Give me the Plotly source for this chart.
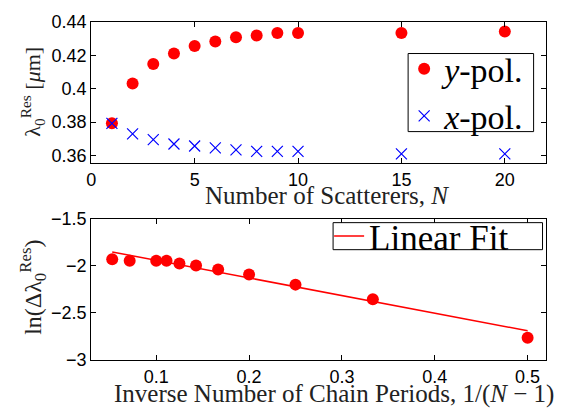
import plotly.graph_objects as go

# ---- data ----
N = [1, 2, 3, 4, 5, 6, 7, 8, 9, 10, 15, 20]
y_pol = [0.3793, 0.4031, 0.4149, 0.4211, 0.4257, 0.4284, 0.4309, 0.4320, 0.4334, 0.4334, 0.4334, 0.4343]
x_pol = [0.3793, 0.3730, 0.3695, 0.3669, 0.3657, 0.3646, 0.3634, 0.3625, 0.3625, 0.3625, 0.3610, 0.3610]

inv_periods = [0.0526, 0.0714, 0.1, 0.1111, 0.125, 0.1429, 0.1667, 0.2, 0.25, 0.3333, 0.5]
ln_dlam = [-1.931, -1.948, -1.948, -1.948, -1.975, -1.998, -2.039, -2.093, -2.200, -2.355, -2.763]
fit_x = [0.0526, 0.5]
fit_y = [-1.854, -2.689]

top_xticks = [0, 5, 10, 15, 20]
top_yticks = [0.36, 0.38, 0.40, 0.42, 0.44]
top_yticklabels = ["0.36", "0.38", "0.4", "0.42", "0.44"]
bot_xticks = [0.1, 0.2, 0.3, 0.4, 0.5]
bot_yticks = [-3, -2.5, -2, -1.5]
bot_yticklabels = ["\u22123", "\u22122.5", "\u22122", "\u22121.5"]

W, H = 567, 419
SERIF = "Liberation Serif, Times New Roman, serif"
SANS = "Liberation Sans, Arial, sans-serif"

fig = go.Figure()
fig.add_trace(go.Scatter(x=N, y=y_pol, mode="markers", name="<i>y</i>-pol.",
                         marker=dict(symbol="circle", size=12, color="#ff0000"),
                         xaxis="x", yaxis="y", legend="legend"))
fig.add_trace(go.Scatter(x=N, y=x_pol, mode="markers", name="<i>x</i>-pol.",
                         marker=dict(symbol="x-thin-open", size=11, color="#0000ff",
                                     line=dict(width=1.2, color="#0000ff")),
                         xaxis="x", yaxis="y", legend="legend"))
fig.add_trace(go.Scatter(x=inv_periods, y=ln_dlam, mode="markers", showlegend=False,
                         marker=dict(symbol="circle", size=12, color="#ff0000"),
                         xaxis="x2", yaxis="y2"))
fig.add_trace(go.Scatter(x=fit_x, y=fit_y, mode="lines", name="Linear Fit",
                         line=dict(color="#ff0000", width=1.5),
                         xaxis="x2", yaxis="y2", legend="legend2"))

xd = [87 / W, 546 / W]
ax_common = dict(showline=True, linecolor="black", linewidth=1, mirror="ticks",
                 ticks="inside", ticklen=5, tickcolor="black", showgrid=False,
                 zeroline=False, tickfont=dict(family=SANS, size=18, color="black"))

# legend frames (drawn as boxes behind transparent legends)
leg1 = (406.7, 45.7, 533.3, 127.7)
leg2 = (331.0, 223.3, 542.3, 251.7)

def box(b):
    return dict(type="rect", xref="paper", yref="paper",
                x0=b[0] / W, x1=b[2] / W, y0=1 - b[3] / H, y1=1 - b[1] / H,
                line=dict(color="black", width=1), fillcolor="white", layer="above")

fig.update_layout(
    width=W, height=H, autosize=False,
    margin=dict(l=0, r=0, t=0, b=0),
    paper_bgcolor="white", plot_bgcolor="white",
    xaxis=dict(domain=xd, range=[0, 22], tickvals=top_xticks, anchor="y", **ax_common),
    yaxis=dict(domain=[1 - 161 / H, 1 - 12.7 / H], range=[0.3553, 0.44],
               tickvals=top_yticks, ticktext=top_yticklabels, anchor="x", **ax_common),
    xaxis2=dict(domain=xd, range=[0.03, 0.52], tickvals=bot_xticks, anchor="y2", **ax_common),
    yaxis2=dict(domain=[1 - 367.7 / H, 1 - 219 / H], range=[-3, -1.5],
                tickvals=bot_yticks, ticktext=bot_yticklabels, anchor="x2", **ax_common),
    shapes=[box(leg1), box(leg2)],
    legend=dict(x=(leg1[0] - 4) / W, y=1 - (leg1[1] + leg1[3]) / 2 / H, xanchor="left", yanchor="middle",
                bgcolor="rgba(0,0,0,0)", borderwidth=0,
                font=dict(family=SERIF, size=34, color="black"), tracegroupgap=0),
    legend2=dict(x=(leg2[0] - 4) / W, y=1 - (leg2[1] + leg2[3]) / 2 / H, xanchor="left", yanchor="middle",
                 bgcolor="rgba(0,0,0,0)", borderwidth=0,
                 font=dict(family=SERIF, size=35, color="black")),
    annotations=[
        dict(text="Number of Scatterers, <i>N</i>", x=325 / W, y=1 - 195 / H,
             xref="paper", yref="paper", showarrow=False, xanchor="center", yanchor="middle",
             font=dict(family=SERIF, size=25, color="#222")),
        dict(text="Inverse Number of Chain Periods, 1/(<i>N</i> \u2212 1)", x=332 / W, y=1 - 403 / H,
             xref="paper", yref="paper", showarrow=False, xanchor="center", yanchor="middle",
             font=dict(family=SERIF, size=25, color="#222")),
        dict(text="\u03bb<sub>0</sub><sup>Res</sup> [<i>\u03bc</i>m]", x=28 / W, y=1 - 86 / H,
             xref="paper", yref="paper", showarrow=False, textangle=-90,
             xanchor="center", yanchor="middle",
             font=dict(family=SERIF, size=22, color="#222")),
        dict(text="ln(\u0394\u03bb<sub>0</sub><sup>Res</sup>)", x=28 / W, y=1 - 291 / H,
             xref="paper", yref="paper", showarrow=False, textangle=-90,
             xanchor="center", yanchor="middle",
             font=dict(family=SERIF, size=24, color="#222")),
    ],
)

fig.write_html("out.html", config={"displayModeBar": False},
               post_script="document.body.style.margin='0';document.body.style.padding='0';")
